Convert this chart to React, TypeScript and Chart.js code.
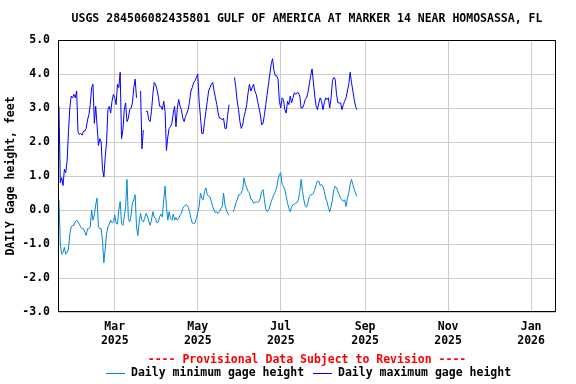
import React, { useEffect, useRef } from "react";
import { Chart, registerables } from "chart.js";

Chart.register(...registerables);

// Day numbers count from Jan 1, 2025 (= day 0). First value is Jan 19, 2025.
const START_DAY = 18;
const X_MIN_DAY = 17.3;
const X_MAX_DAY = 383.3;

const X_TICK_DAYS = [59, 120, 181, 243, 304, 365];
const X_TICK_LABELS = [
  ["Mar", "2025"],
  ["May", "2025"],
  ["Jul", "2025"],
  ["Sep", "2025"],
  ["Nov", "2025"],
  ["Jan", "2026"],
];
const Y_TICKS = [-3, -2, -1, 0, 1, 2, 3, 4, 5];

const TITLE = "USGS 284506082435801 GULF OF AMERICA AT MARKER 14 NEAR HOMOSASSA, FL";
const Y_TITLE = "DAILY Gage height, feet";
const PROVISIONAL = "---- Provisional Data Subject to Revision ----";
const SERIES_NAMES = ["Daily minimum gage height", "Daily maximum gage height"];
const SERIES_COLORS = ["#0088d8", "#0000ff"];

const MAX_VALUES: (number | null)[] = [
  3.05, 0.8, 0.95, 0.72, 1.2, 1.1, 1.45, 2.3, 3.0, 3.35,
  3.3, 3.4, 3.3, 3.5, 2.3, 2.22, 2.25, 2.2, 2.32, 2.32,
  2.4, 2.65, 2.8, 3.1, 3.6, 3.7, 2.55, 3.05, 2.5, 1.9,
  2.1, 2.0, 1.2, 0.97, 1.55, 2.0, 2.95, 3.05, 2.85, 3.2,
  3.4, 3.3, 3.1, 3.7, 3.6, 4.05, 2.1, 2.35, 2.95, 3.15,
  2.6, 2.7, 2.95, 3.0, 3.15, 3.6, 3.85, 3.3, null, null,
  3.5, 1.8, 2.35, null, 2.9, 2.9, 2.65, 2.6, 2.9, 3.4,
  3.75, 3.7, 3.55, 3.35, 3.05, 3.05, 2.95, 3.2, 2.9, 1.75,
  2.15, 2.4, 2.45, 2.55, 2.85, 3.05, 2.45, 3.0, 3.25, 3.05,
  2.95, 2.7, 2.6, 2.75, 2.85, 2.95, 3.2, 3.5, 3.6, 3.75,
  3.8, 3.9, 4.0, 3.2, 2.75, 2.25, 2.25, 2.6, 2.9, 3.2,
  3.5, 3.6, 3.7, 3.75, 3.5, 3.3, 3.1, 2.85, 2.7, 2.7,
  2.65, 2.7, 2.4, 2.4, 2.8, 3.1, null, null, null, 3.9,
  3.6, 3.2, 2.95, 2.6, 2.4, 2.5, 2.75, 2.9, 3.1, 3.45,
  3.7, 3.5, 3.6, 3.7, 3.5, 3.4, 3.2, 3.0, 2.8, 2.5,
  2.55, 2.8, 3.1, 3.4, 3.7, 4.0, 4.3, 4.45, 4.1, 3.95,
  3.95, 3.85, 3.2, 3.0, 3.3, 3.25, 2.95, 2.85, 3.2, 3.1,
  3.35, 3.15, 3.3, 3.45, 3.4, 3.45, 3.45, 3.35, 3.0, 3.0,
  3.1, 3.25, 3.3, 3.45, 3.7, 3.95, 4.15, 3.75, 3.35, 3.05,
  2.95, 3.15, 3.3, 3.2, 2.95, 3.15, 3.3, 3.25, 3.3, 3.0,
  3.3, 3.8, 3.9, 3.85, 3.4, 3.15, 3.15, 3.15, 2.95, 3.1,
  3.2, 3.3, 3.5, 3.7, 4.05, 3.75, 3.5, 3.25, 3.05, 2.95,
];

const MIN_VALUES: (number | null)[] = [
  0.3, -1.0, -1.3, -1.25, -1.1, -1.3, -1.25, -1.15, -0.7, -0.5,
  -0.45, -0.45, -0.35, -0.3, -0.35, -0.42, -0.5, -0.55, -0.55, -0.65,
  -0.75, -0.55, -0.55, -0.5, 0.0, -0.3, -0.15, 0.15, 0.35, -0.5,
  -0.55, -0.55, -0.9, -1.55, -1.15, -0.7, -0.5, -0.42, -0.3, -0.38,
  -0.35, -0.15, -0.38, -0.42, 0.0, 0.25, -0.4, -0.45, -0.2, 0.1,
  0.9, -0.25, -0.35, -0.15, 0.2, 0.3, 0.45, -0.5, -0.75, -0.35,
  -0.1, -0.3, -0.35, -0.25, -0.1, -0.18, -0.33, -0.45, -0.3, -0.05,
  -0.2, -0.25, -0.38, -0.35, -0.2, -0.12, -0.2, 0.3, 0.7, 0.1,
  -0.3, -0.05, -0.25, -0.3, -0.12, -0.3, -0.22, -0.3, -0.25, -0.15,
  -0.1, 0.05, 0.1, 0.15, 0.15, 0.08, -0.05, -0.25, -0.38, -0.4,
  -0.38, -0.25, -0.08, 0.1, 0.5, 0.35, 0.3, 0.55, 0.65, 0.45,
  0.4, 0.38, 0.25, 0.1, 0.0, -0.08, -0.05, -0.1, -0.05, 0.05,
  0.1, 0.5, 0.15, 0.0, -0.1, -0.15, null, null, -0.05, 0.05,
  0.2, 0.3, 0.45, 0.45, 0.5, 0.6, 0.95, 0.75, 0.65, 0.55,
  0.5, 0.32, 0.3, 0.2, 0.22, 0.25, 0.22, 0.25, 0.35, 0.55,
  0.6, 0.3, 0.02, -0.05, 0.0, 0.1, 0.25, 0.35, 0.45, 0.55,
  0.65, 0.9, 1.05, 1.1, 0.75, 0.7, 0.6, 0.4, 0.2, 0.05,
  -0.05, 0.1, 0.15, 0.18, 0.2, 0.22, 0.3, 0.55, 0.9, 0.55,
  0.3, 0.12, 0.08, 0.22, 0.4, 0.45, 0.45, 0.5, 0.6, 0.75,
  0.85, 0.85, 0.72, 0.75, 0.7, 0.55, 0.35, 0.25, 0.08, -0.05,
  0.1, 0.3, 0.6, 0.7, 0.65, 0.55, 0.45, 0.35, 0.3, 0.25,
  0.3, 0.1, 0.35, 0.5, 0.75, 0.9, 0.75, 0.6, 0.5, 0.4,
];

const FONT_FAMILY = '"DejaVu Sans Mono", "Liberation Mono", monospace';
const FONT_SIZE = 11.5;

const toPoints = (vals: (number | null)[]) =>
  vals.map((v, i) => ({ x: START_DAY + i, y: v }));

const decorPlugin = {
  id: "decor",
  afterDraw(chart: any) {
    const { ctx, chartArea } = chart;
    const { left, top, right, bottom } = chartArea;
    ctx.save();
    // frame
    ctx.strokeStyle = "#000000";
    ctx.lineWidth = 1;
    ctx.strokeRect(
      Math.round(left) + 0.5,
      Math.round(top) + 0.5,
      Math.round(right) - Math.round(left) - 1,
      Math.round(bottom) - Math.round(top) - 1
    );
    const cx = (left + right) / 2;
    ctx.font = `bold ${FONT_SIZE}px ${FONT_FAMILY}`;
    ctx.textBaseline = "middle";
    ctx.textAlign = "center";
    ctx.fillStyle = "#000000";
    ctx.fillText(TITLE, cx, 19);
    ctx.fillStyle = "#ff0000";
    ctx.fillText(PROVISIONAL, cx, 360);

    // legend
    const items = [
      { x: 106, text: SERIES_NAMES[0], color: SERIES_COLORS[0] },
      { x: 313, text: SERIES_NAMES[1], color: SERIES_COLORS[1] },
    ];
    const ly = 373.5;
    ctx.textAlign = "left";
    items.forEach((it) => {
      ctx.strokeStyle = it.color;
      ctx.beginPath();
      ctx.moveTo(it.x, Math.floor(ly) + 0.5);
      ctx.lineTo(it.x + 19, Math.floor(ly) + 0.5);
      ctx.stroke();
      ctx.fillStyle = "#000000";
      ctx.fillText(it.text, it.x + 25, ly);
    });
    ctx.restore();
  },
};

export default function App() {
  const ref = useRef<HTMLCanvasElement | null>(null);

  useEffect(() => {
    document.body.style.margin = "0";
    const canvas = ref.current;
    if (!canvas) return;
    const font = { family: FONT_FAMILY, size: FONT_SIZE, weight: "bold" as const };
    const chart = new Chart(canvas, {
      type: "line",
      data: {
        datasets: [
          {
            label: SERIES_NAMES[0],
            data: toPoints(MIN_VALUES),
            borderColor: SERIES_COLORS[0],
            backgroundColor: SERIES_COLORS[0],
            borderWidth: 1,
            pointRadius: 0,
            tension: 0,
            spanGaps: false,
          },
          {
            label: SERIES_NAMES[1],
            data: toPoints(MAX_VALUES),
            borderColor: SERIES_COLORS[1],
            backgroundColor: SERIES_COLORS[1],
            borderWidth: 1,
            pointRadius: 0,
            tension: 0,
            spanGaps: false,
          },
        ],
      },
      options: {
        responsive: false,
        animation: false,
        devicePixelRatio: 1,
        layout: { padding: { left: 0, top: 40, right: 20, bottom: 0 } },
        plugins: {
          legend: { display: false },
          title: { display: false },
          tooltip: { enabled: false },
        },
        scales: {
          x: {
            type: "linear",
            min: X_MIN_DAY,
            max: X_MAX_DAY,
            afterBuildTicks: (scale: any) => {
              scale.ticks = X_TICK_DAYS.map((v) => ({ value: v }));
            },
            afterFit: (scale: any) => {
              scale.height = 72;
            },
            ticks: {
              autoSkip: false,
              maxRotation: 0,
              minRotation: 0,
              padding: 8,
              color: "#000000",
              font,
              callback: (_v: any, i: number) => X_TICK_LABELS[i],
            },
            grid: { color: "#cccccc", lineWidth: 1, drawTicks: false },
            border: { display: false },
          },
          y: {
            min: -3,
            max: 5,
            afterBuildTicks: (scale: any) => {
              scale.ticks = Y_TICKS.map((v) => ({ value: v }));
            },
            afterFit: (scale: any) => {
              scale.width = 58;
            },
            ticks: {
              padding: 8,
              color: "#000000",
              font,
              callback: (v: any) => Number(v).toFixed(1),
            },
            grid: { color: "#cccccc", lineWidth: 1, drawTicks: false },
            border: { display: false },
            title: {
              display: true,
              text: Y_TITLE,
              color: "#000000",
              font,
              padding: { top: 4, bottom: 4 },
            },
          },
        },
      },
      plugins: [decorPlugin],
    });
    return () => chart.destroy();
  }, []);

  return (
    <div style={{ width: 576, height: 384 }}>
      <canvas ref={ref} width={576} height={384} style={{ display: "block" }} />
    </div>
  );
}
